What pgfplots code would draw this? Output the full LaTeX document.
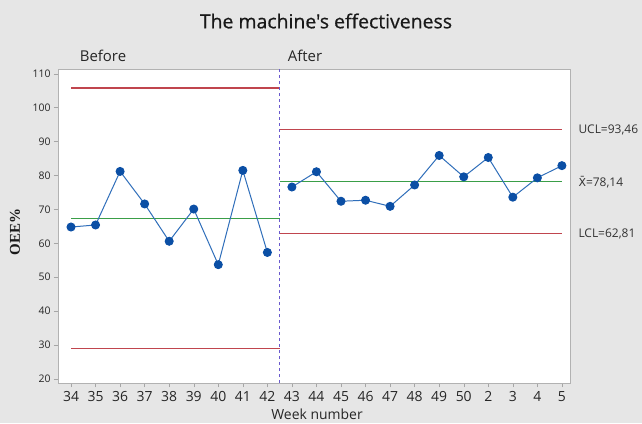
\documentclass[border=0pt]{standalone}
\usepackage{fontspec}
\setmainfont{Open Sans}
\newfontfamily\serifface{Liberation Serif}
\newfontfamily\dejavu{DejaVu Sans}
\newfontfamily\titlefont[FakeBold=0.6]{Open Sans}
\usepackage{pgfplots}
\pgfplotsset{compat=1.18}
\definecolor{bg}{HTML}{E6E6E6}
\definecolor{serblue}{HTML}{2F6EBA}
\definecolor{mkblue}{HTML}{0B4FA5}
\definecolor{limred}{HTML}{C0454E}
\definecolor{cgreen}{HTML}{3A9E48}
\definecolor{divcol}{HTML}{6A5ACD}
\begin{document}
\begin{tikzpicture}[x=1bp,y=1bp]
\fill[bg] (0,0) rectangle (642,423);
\useasboundingbox (0,0) rectangle (642,423);
\begin{axis}[
  at={(58bp,40bp)}, anchor=south west,
  scale only axis, width=512bp, height=314bp,
  xmin=-0.53, xmax=20.33, ymin=18.8, ymax=111.4,
  axis background/.style={fill=white},
  axis line style={gray!60},
  tick align=outside, tick pos=left,
  major tick length=4bp,
  every tick/.style={gray!70},
  xtick={0,...,20},
  xticklabels={34,35,36,37,38,39,40,41,42,43,44,45,46,47,48,49,50,2,3,4,5},
  ytick={20,30,...,110},
  /pgf/number format/assume math mode=true,
  xticklabel style={font=\fontsize{14}{16}\selectfont, text=black!85, yshift=-1bp},
  yticklabel style={font=\fontsize{10.5}{12}\selectfont, text=black!85},
  clip=false,
]
% control limits and centre lines
\addplot[limred, line width=1.1pt] coordinates {(0,105.8) (8.5,105.8)};
\addplot[limred, line width=1.1pt] coordinates {(0,28.9) (8.5,28.9)};
\addplot[cgreen, line width=1.1pt] coordinates {(0,67.36) (8.5,67.36)};
\addplot[limred, line width=1.1pt] coordinates {(8.5,93.46) (20,93.46)};
\addplot[limred, line width=1.1pt] coordinates {(8.5,62.81) (20,62.81)};
\addplot[cgreen, line width=1.1pt] coordinates {(8.5,78.14) (20,78.14)};
% divider
\addplot[divcol, dashed, line width=0.8pt] coordinates {(8.5,18.8) (8.5,111.4)};
% data
\addplot[serblue, line width=1pt, mark=*, mark size=4pt, mark options={fill=mkblue, draw=mkblue}]
 coordinates {(0,64.8) (1,65.4) (2,81.2) (3,71.6) (4,60.6) (5,70.1) (6,53.7) (7,81.5) (8,57.3)};
\addplot[serblue, line width=1pt, mark=*, mark size=4pt, mark options={fill=mkblue, draw=mkblue}]
 coordinates {(9,76.6) (10,81.1) (11,72.4) (12,72.7) (13,70.9) (14,77.2) (15,85.9) (16,79.6) (17,85.3) (18,73.6) (19,79.3) (20,82.9)};
% labels
\node[anchor=west, font=\fontsize{12}{14}\selectfont, text=black!80] at (axis cs:20.33,93.46) [xshift=5bp] {UCL=93,46};
\node[anchor=west, font=\fontsize{12}{14}\selectfont, text=black!80] at (axis cs:20.33,78.14) [xshift=5bp] {{\dejavu\fontsize{11}{14}\selectfont X̄}=78,14};
\node[anchor=west, font=\fontsize{12}{14}\selectfont, text=black!80] at (axis cs:20.33,62.81) [xshift=5bp] {LCL=62,81};
\end{axis}
\node[font=\titlefont\fontsize{19.5}{22}\selectfont, text=black!90] at (326,402) {The machine's effectiveness};
\node[font=\fontsize{15}{17}\selectfont, text=black!85] at (103,367) {Before};
\node[font=\fontsize{15}{17}\selectfont, text=black!85] at (305,367) {After};
\node[anchor=base, font=\fontsize{14}{16}\selectfont, text=black!85] at (317,4) {Week number};
\node[rotate=90, font=\serifface\bfseries\fontsize{15}{17}\selectfont, text=black!90] at (15,191) {OEE\%};
\end{tikzpicture}
\end{document}
